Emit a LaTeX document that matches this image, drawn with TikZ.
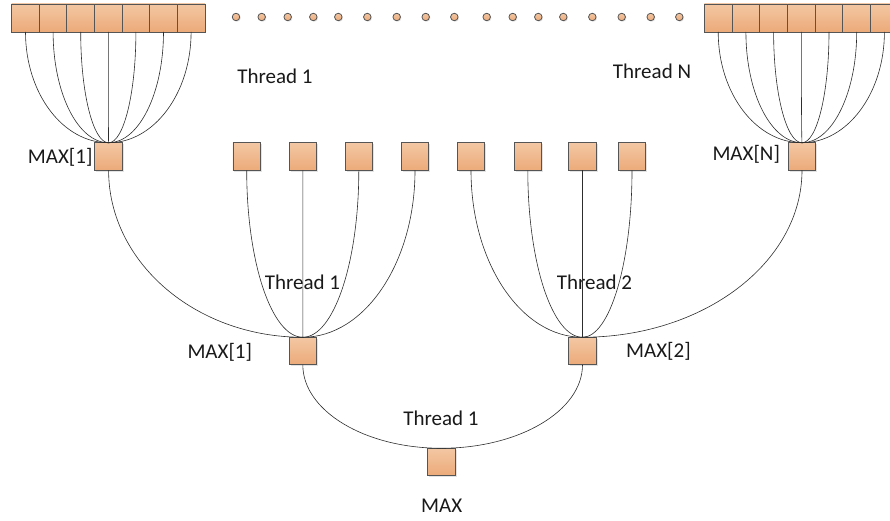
\documentclass[tikz,border=0pt]{standalone}
\usepackage{fontspec}
\setmainfont{Carlito}
\usetikzlibrary{calc,shadows}

\definecolor{boxtop}{RGB}{243,199,163}
\definecolor{boxbot}{RGB}{236,170,121}
\definecolor{boxedge}{RGB}{85,85,85}
\definecolor{wirecol}{RGB}{45,45,45}

\tikzset{
  cell/.style={draw=boxedge, line width=0.9pt, top color=boxtop, bottom color=boxbot,
    inner sep=0pt, outer sep=0pt, minimum width=27.7pt, minimum height=28pt,
    drop shadow={opacity=0.22, shadow xshift=1.5pt, shadow yshift=-1.5pt}},
  unit/.style={cell, minimum width=27.5pt, minimum height=27.5pt},
  bead/.style={circle, draw=boxedge, line width=0.8pt, top color=boxtop, bottom color=boxbot,
    inner sep=0pt, outer sep=0pt, minimum size=7.5pt,
    drop shadow={opacity=0.22, shadow xshift=1pt, shadow yshift=-1pt}},
  lbl/.style={font=\fontsize{21}{25}\selectfont, text=black!90, inner sep=0pt},
  wire/.style={draw=wirecol, line width=0.6pt},
}

% quarter-ellipse connector: leaves #1 downwards, reaches the top of #2 horizontally
\newcommand\arcto[2]{%
  \coordinate (knee) at (#1.south |- #2.north);
  \draw[wire] (#1.south) .. controls ($(#1.south)!0.552!(knee)$)
    and ($(#2.north)!0.552!(knee)$) .. (#2.north);
}

\begin{document}
\begin{tikzpicture}[x=1pt, y=-1pt]
  \useasboundingbox (0,0) rectangle (890,521);
  \clip (0,0) rectangle (890,521);

  % input arrays of the first and last thread
  \foreach \k in {0,...,6} {
    \node[cell] (l\k) at ({25.5+27.6*\k},18) {};
    \node[cell] (r\k) at ({718.2+27.7*\k},18) {};
  }

  % ellipsis of the threads in between
  \foreach \x [count=\i] in {236,261.7,287.7,313.3,338.3,367.3,396.7,425.7,454.3,486.7,512.7,538.3,563.3,592.3,621.7,650.7,679.3}
    \node[bead] (d\i) at (\x,17) {};

  % per-thread maxima
  \node[unit] (m1) at (108.6,156.5) {};
  \node[unit] (mN) at (802,156.5) {};
  \foreach \x [count=\i] in {246.7,302.8,358.8,415,471,527.8,582.5,632}
    \node[unit] (b\i) at (\x,156.7) {};

  % second reduction level and final result
  \node[unit] (s1) at (302.8,351) {};
  \node[unit] (s2) at (582.5,351) {};
  \node[unit] (fin) at (441.3,462) {};

  % labels
  \node[lbl, anchor=base] (lt1) at (275,83.3) {Thread 1};
  \node[lbl, anchor=base] (ltN) at (652,78.3) {Thread N};
  \node[lbl, anchor=base west] (lm1) at (27.7,164) {MAX[1]};
  \node[lbl, anchor=base west] (lmN) at (712.3,160.7) {MAX[N]};
  \node[lbl, anchor=base] (lt1b) at (302.5,289.7) {Thread 1};
  \node[lbl, anchor=base] (lt2) at (594.5,289.7) {Thread 2};
  \node[lbl, anchor=base west] (ls1) at (187.3,358.5) {MAX[1]};
  \node[lbl, anchor=base west] (ls2) at (626,357) {MAX[2]};
  \node[lbl, anchor=base] (lt1c) at (441,425) {Thread 1};
  \node[lbl, anchor=base] (lmax) at (441.7,512.3) {MAX};

  % fan-in of each array into its maximum
  \foreach \k in {0,...,6} {
    \arcto{l\k}{m1}
    \arcto{r\k}{mN}
  }

  % fan-in into the second level
  \arcto{m1}{s1}
  \foreach \i in {1,...,4} { \arcto{b\i}{s1} }
  \foreach \i in {5,...,8} { \arcto{b\i}{s2} }
  \arcto{mN}{s2}

  % final reduction
  \arcto{s1}{fin}
  \arcto{s2}{fin}
\end{tikzpicture}
\end{document}
